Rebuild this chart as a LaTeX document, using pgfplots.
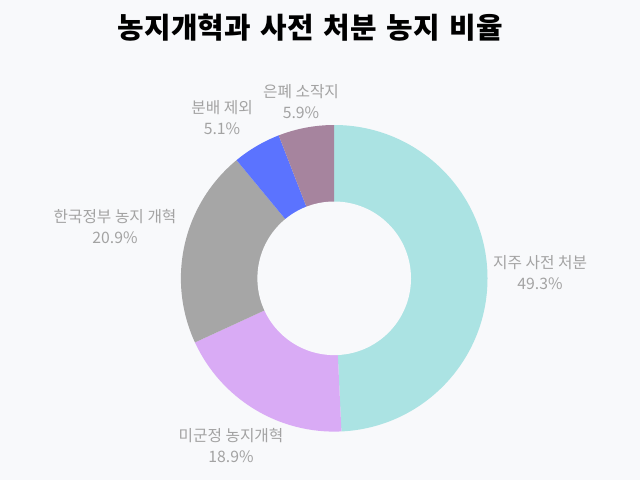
\documentclass[border=0pt]{standalone}
\usepackage{fontspec}
\setmainfont{Noto Sans CJK KR}
\usepackage{pgfplots}
\usepackage{pgfplotstable}
\pgfplotsset{compat=1.18}

\definecolor{bg}{HTML}{F8F9FB}
\definecolor{lbl}{HTML}{A3A3A3}
\definecolor{c0}{HTML}{ABE3E3}
\definecolor{c1}{HTML}{D9ABF5}
\definecolor{c2}{HTML}{A6A6A6}
\definecolor{c3}{HTML}{5B73FF}
\definecolor{c4}{HTML}{A6849E}

% share of each slice, clockwise from the top
\pgfplotstableread[col sep=comma]{
label,value
지주 사전 처분,49.3
미군정 농지개혁,18.9
한국정부 농지 개혁,20.9
분배 제외,5.1
은폐 소작지,5.9
}\donut

% cumulative angles
\def\total{0}
\pgfplotsforeachungrouped \i in {0,...,4}{%
  \pgfplotstablegetelem{\i}{value}\of\donut
  \pgfmathsetmacro\total{\total+\pgfplotsretval}%
}
\def\cum{0}
\pgfplotsforeachungrouped \i in {0,...,4}{%
  \pgfplotstablegetelem{\i}{value}\of\donut
  \pgfmathsetmacro\angA{90-(\cum/\total)*360}%
  \pgfmathsetmacro\cum{\cum+\pgfplotsretval}%
  \pgfmathsetmacro\angB{90-(\cum/\total)*360}%
  \expandafter\let\csname sa\i\endcsname\angA
  \expandafter\let\csname sb\i\endcsname\angB
}

\def\R{3.8325cm}
\def\r{1.92cm}
\def\cx{334.2}
\def\cy{278.3}

\newcommand\slice[1]{%
  \fill[c#1] (axis cs:\cx,\cy) -- ++(\csname sa#1\endcsname:\R)
    arc[start angle=\csname sa#1\endcsname, end angle=\csname sb#1\endcsname, radius=\R] -- cycle;
}

\begin{document}
\begin{tikzpicture}
  \begin{axis}[
    width=16cm, height=12cm,
    scale only axis,
    xmin=0, xmax=640, ymin=0, ymax=480,
    y dir=reverse,
    hide axis,
    clip=false,
  ]
    \fill[bg] (axis cs:0,0) rectangle (axis cs:640,480);
    \slice{0}
    \slice{1}
    \slice{2}
    \slice{3}
    \slice{4}
    \fill[bg] (axis cs:\cx,\cy) circle[radius=\r];

    \node[font=\fontsize{20.5}{24}\selectfont\bfseries] at (axis cs:310.5,28)
      {농지개혁과\hspace{0.35em}사전\hspace{0.35em}처분\hspace{0.35em}농지\hspace{0.35em}비율};

    \tikzset{lab/.style={font=\fontsize{11.2}{14.9}\selectfont, text=lbl, align=center, inner sep=0pt}}
    \node[lab] at (axis cs:540,272.5) {지주 사전 처분\\49.3\%};
    \node[lab] at (axis cs:231,445.5) {미군정 농지개혁\\18.9\%};
    \node[lab] at (axis cs:115,226.5) {한국정부 농지 개혁\\20.9\%};
    \node[lab] at (axis cs:222,118) {분배 제외\\5.1\%};
    \node[lab] at (axis cs:301,101.5) {은폐 소작지\\5.9\%};
  \end{axis}
\end{tikzpicture}
\end{document}
